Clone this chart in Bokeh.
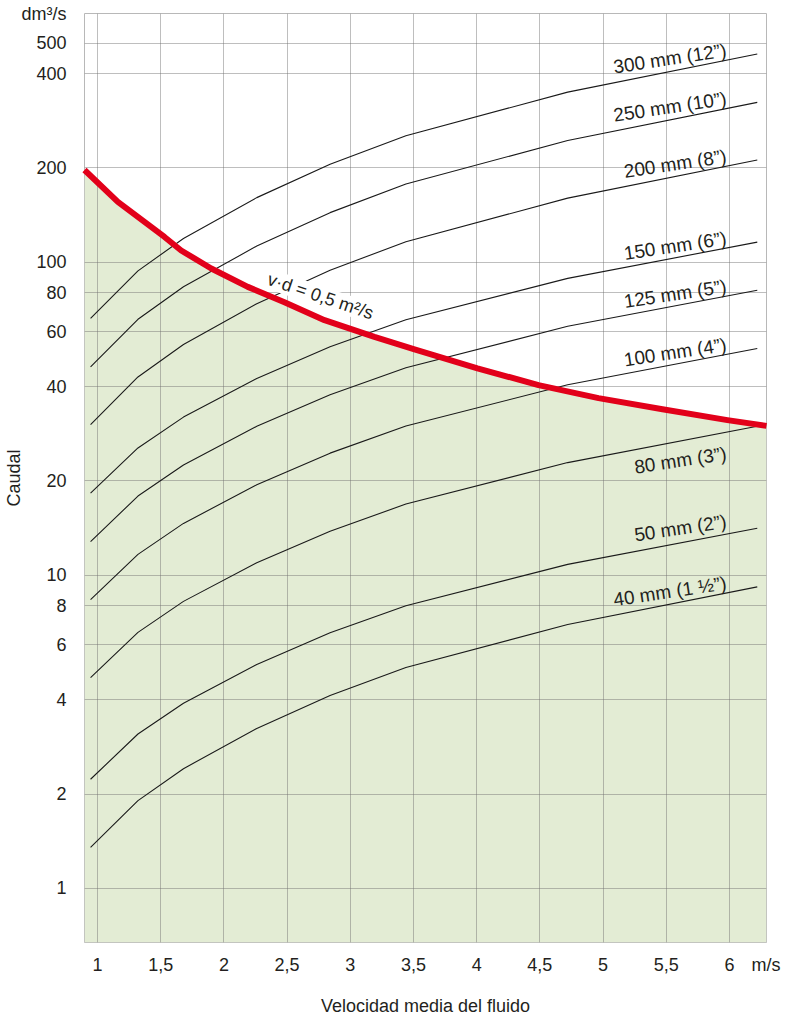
from bokeh.plotting import figure
from bokeh.models import FixedTicker, Label
from bokeh.embed import file_html
from bokeh.resources import INLINE

# ---- data ----
velocity = [0.945, 1.32, 1.68, 2.26, 2.84, 3.44, 4.72, 6.22]   # m/s (vertices of the curves)
q_300 = [66.1, 93.8, 119.1, 160.8, 205.5, 253.5, 349.4, 462.4]
q_250 = [46.3, 65.7, 83.5, 112.6, 144.0, 177.7, 244.8, 324.0]
q_200 = [30.3, 43.0, 54.6, 73.7, 94.2, 116.3, 160.2, 212.0]
q_150 = [18.3, 25.5, 32.0, 42.5, 53.7, 65.5, 88.8, 115.9]
q_125 = [12.8, 17.9, 22.5, 29.9, 37.7, 46.0, 62.4, 81.4]
q_100 = [8.36, 11.66, 14.64, 19.45, 24.55, 29.96, 40.6, 53.0]
q_80 = [4.71, 6.57, 8.25, 10.96, 13.83, 16.88, 22.9, 29.9]
q_50 = [2.23, 3.11, 3.90, 5.19, 6.55, 7.99, 10.83, 14.13]
q_40 = [1.35, 1.905, 2.41, 3.24, 4.13, 5.07, 6.96, 9.18]

pipe_names = ["300 mm (12”)", "250 mm (10”)", "200 mm (8”)", "150 mm (6”)",
              "125 mm (5”)", "100 mm (4”)", "80 mm (3”)", "50 mm (2”)", "40 mm (1 ½”)"]
pipe_flows = [q_300, q_250, q_200, q_150, q_125, q_100, q_80, q_50, q_40]

# v·d = 0,5 m²/s limit curve
limit_v = [0.897, 1.161, 1.530, 1.662, 1.900, 2.189, 2.479, 2.796, 3.191, 3.508,
           4.006, 4.489, 4.964, 5.470, 5.984, 6.293]
limit_q = [197.0, 155.8, 120.4, 109.0, 95.5, 83.4, 74.5, 65.3, 57.7, 52.7,
           45.8, 40.5, 36.8, 33.9, 31.3, 30.0]

x_ticks = [1, 1.5, 2, 2.5, 3, 3.5, 4, 4.5, 5, 5.5, 6]
x_tick_labels = ["1", "1,5", "2", "2,5", "3", "3,5", "4", "4,5", "5", "5,5", "6"]
x_unit = "m/s"
y_ticks = [1, 2, 4, 6, 8, 10, 20, 40, 60, 80, 100, 200, 400, 500]
y_tick_labels = ["1", "2", "4", "6", "8", "10", "20", "40", "60", "80", "100", "200", "400", "500"]
y_unit = "dm³/s"

# ---- layout / style ----
X0, X1 = 0.897, 6.293
Y0, Y1 = 0.671, 623
X_UNIT_POS, Y_UNIT_POS = 6.29, 621   # unit captions sit at the range ends
FONT = "Liberation Sans"
TXT = "#231f20"
GREEN = "#e3ecd4"
RED = "#e2001a"

p = figure(width=790, height=1018, x_range=(X0, X1), y_range=(Y0, Y1),
           y_axis_type="log", output_backend="svg", toolbar_location=None,
           title=None, min_border_left=84, min_border_right=24,
           min_border_top=13, min_border_bottom=76)

p.outline_line_color = "#b8b8b8"
p.background_fill_color = "white"

p.xaxis.ticker = FixedTicker(ticks=x_ticks + [X_UNIT_POS])
p.xgrid.ticker = FixedTicker(ticks=x_ticks)
p.yaxis.ticker = FixedTicker(ticks=y_ticks + [Y_UNIT_POS])
p.ygrid.ticker = FixedTicker(ticks=y_ticks)
xo = {t: s for t, s in zip(x_ticks, x_tick_labels)}
xo[X_UNIT_POS] = x_unit
yo = {t: s for t, s in zip(y_ticks, y_tick_labels)}
yo[Y_UNIT_POS] = y_unit
p.xaxis.major_label_overrides = xo
p.yaxis.major_label_overrides = yo

for ax in (p.xaxis, p.yaxis):
    ax.axis_line_color = None
    ax.major_tick_line_color = None
    ax.minor_tick_line_color = None
    ax.major_tick_out = 0
    ax.major_tick_in = 0
    ax.major_label_text_font = FONT
    ax.major_label_text_font_size = "18px"
    ax.major_label_text_color = TXT
    ax.axis_label_text_font = FONT
    ax.axis_label_text_font_size = "18px"
    ax.axis_label_text_font_style = "normal"
    ax.axis_label_text_color = TXT

p.xaxis.axis_label = "Velocidad media del fluido"
p.yaxis.axis_label = "Caudal"
p.xaxis.major_label_standoff = 12
p.xaxis.axis_label_standoff = 18
p.yaxis.major_label_standoff = 18
p.yaxis.axis_label_standoff = -5

p.grid.grid_line_color = "#6f6f6f"
p.grid.grid_line_alpha = 0.45
p.grid.grid_line_width = 1

# green area under the limit curve
p.varea(x=limit_v, y1=Y0, y2=limit_q, fill_color=GREEN, level="image")

# pipe curves
for name, q in zip(pipe_names, pipe_flows):
    p.line(velocity, q, line_color="#1a1a1a", line_width=1.1)

# limit curve on top of everything
p.line(limit_v, limit_q, line_color=RED, line_width=6, level="overlay",
       line_join="round")

# curve labels
label_yoff = {"80 mm (3”)": -27, "50 mm (2”)": 7}
for name, q in zip(pipe_names, pipe_flows):
    p.add_layout(Label(x=velocity[-1], y=q[-1], x_offset=-31,
                       y_offset=label_yoff.get(name, 4),
                       text=name, angle=0.15, text_align="right",
                       text_baseline="alphabetic", text_font=FONT,
                       text_font_size="19px", text_color=TXT))

p.add_layout(Label(x=2.764, y=77.9, text="v·d = 0,5 m²/s", angle=-0.326,
                   text_align="center", text_baseline="middle", text_font=FONT,
                   text_font_size="18px", text_color=TXT,
                   background_fill_color="white", background_fill_alpha=1.0))

open("out.html", "w").write(file_html(p, INLINE))
